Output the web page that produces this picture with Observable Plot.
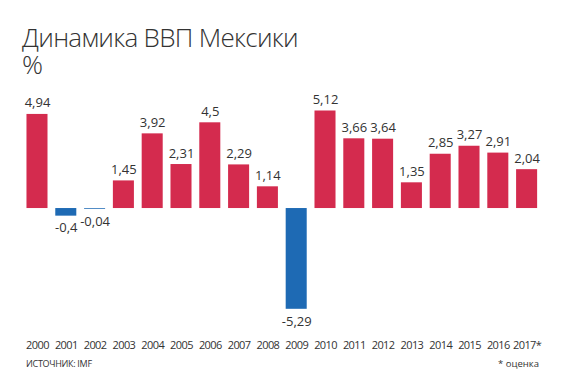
<!DOCTYPE html>
<html>
<head>
<meta charset="utf-8">
<script src="https://cdn.jsdelivr.net/npm/d3@7"></script>
<script src="https://cdn.jsdelivr.net/npm/@observablehq/plot@0.6"></script>
<style>
  html, body { margin: 0; padding: 0; background: #fff; }
  body { width: 565px; height: 380px; position: relative; overflow: hidden; font-family: "Open Sans", sans-serif; color: #333; }
  #title { position: absolute; left: 22px; top: 24px; font-size: 26px; font-weight: 300; line-height: 26px; letter-spacing: -0.7px; color: #333; white-space: nowrap; }
  #unit { position: absolute; left: 22px; top: 54px; font-size: 26px; font-weight: 300; line-height: 20px; color: #333; }
  #chart { position: absolute; left: 0; top: 78px; }
  #source { position: absolute; left: 26px; top: 357px; font-size: 9px; letter-spacing: -0.3px; color: #333; }
  #note { position: absolute; right: 26px; top: 357px; font-size: 9.5px; color: #333; }
</style>
</head>
<body>
<div id="title">Динамика ВВП Мексики</div>
<div id="unit">%</div>
<div id="chart"></div>
<div id="source">ИСТОЧНИК: IMF</div>
<div id="note">* оценка</div>
<script>
const years = ["2000","2001","2002","2003","2004","2005","2006","2007","2008","2009","2010","2011","2012","2013","2014","2015","2016","2017*"];
const growth = [4.94, -0.4, -0.04, 1.45, 3.92, 2.31, 4.5, 2.29, 1.14, -5.29, 5.12, 3.66, 3.64, 1.35, 2.85, 3.27, 2.91, 2.04];
const posColor = "#d42b4e";
const negColor = "#1e6ab4";

const data = years.map((y, i) => ({year: y, value: growth[i]}));
const fmt = v => String(v).replace(".", ",");

const chart = Plot.plot({
  width: 565,
  height: 280,
  marginTop: 32.5,
  marginBottom: 49.2,
  marginLeft: 18.7,
  marginRight: 20.1,
  style: {fontFamily: "Open Sans, sans-serif", color: "#333", background: "transparent"},
  x: {domain: years, padding: 0.27, round: false},
  y: {domain: [-5.29, 5.12], axis: null},
  marks: [
    Plot.barY(data, {x: "year", y: "value", fill: d => d.value >= 0 ? posColor : negColor}),
    Plot.text(data, {x: "year", y: "value", text: d => fmt(d.value), fontSize: 13, fill: "#333",
      filter: d => d.value >= 0, lineAnchor: "bottom", dy: -7}),
    Plot.text(data, {x: "year", y: "value", text: d => fmt(d.value), fontSize: 13, fill: "#333",
      filter: d => d.value < 0, lineAnchor: "top", dy: 7}),
    Plot.axisX({tickSize: 0, tickPadding: 32, fontSize: 11, label: null, fill: "#333"})
  ]
});
chart.querySelectorAll("g[aria-label='x-axis tick label'] text").forEach(t => t.setAttribute("letter-spacing", "-0.6"));
document.getElementById("chart").appendChild(chart);
</script>
</body>
</html>
